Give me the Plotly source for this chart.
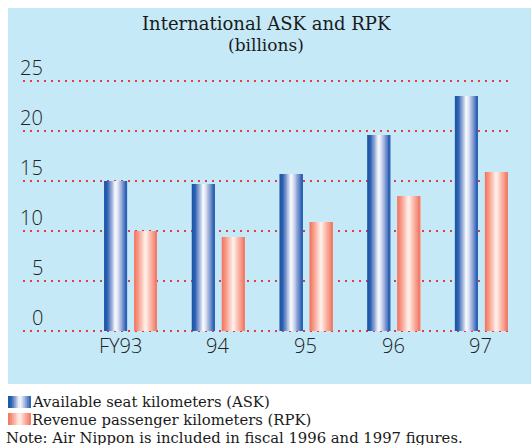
import plotly.graph_objects as go

# ---- data ----
years = ["FY93", "94", "95", "96", "97"]
ask = [15.0, 14.7, 15.7, 19.6, 23.5]   # available seat kilometers, billions
rpk = [10.0, 9.4, 10.9, 13.5, 15.9]    # revenue passenger kilometers, billions
y_ticks = [0, 5, 10, 15, 20, 25]

title_text = "International ASK and RPK"
unit_text = "(billions)"
ask_label = "Available seat kilometers (ASK)"
rpk_label = "Revenue passenger kilometers (RPK)"
note_text = "Note: Air Nippon is included in fiscal 1996 and 1997 figures."

# ---- styling ----
W, H = 531, 445
M_L, M_R, M_T, M_B = 23, 18, 78, 111
PW, PH = W - M_L - M_R, H - M_T - M_B
PANEL = "#c6e9f8"
GRID = "#e63a44"
SANS = "Open Sans"
SERIF = "DejaVu Serif"

ASK_STOPS = [(0.0, "#1a55a8"), (0.14, "#2b60b0"), (0.32, "#94a9d7"),
             (0.5, "#ffffff"), (0.64, "#cfd6ee"), (0.86, "#6283c5"), (1.0, "#1d5cb1")]
RPK_STOPS = [(0.0, "#f2715d"), (0.18, "#f79a87"), (0.5, "#fff4ef"),
             (0.72, "#fbb8a8"), (0.9, "#f48b7b"), (1.0, "#f07765")]

X_RANGE = [-1.226, 4.361]
Y_RANGE = [-0.3, 25.3]
BAR_W = 0.262
ASK_OFF = -0.302
RPK_OFF = 0.040
N_SLICES = 18


def hex_rgb(h):
    h = h.lstrip("#")
    return tuple(int(h[i:i + 2], 16) for i in (0, 2, 4))


def grad(stops, t):
    for (t0, c0), (t1, c1) in zip(stops, stops[1:]):
        if t <= t1:
            f = 0 if t1 == t0 else (t - t0) / (t1 - t0)
            a, b = hex_rgb(c0), hex_rgb(c1)
            return "rgb(%d,%d,%d)" % tuple(round(a[i] + (b[i] - a[i]) * f) for i in range(3))
    return stops[-1][1]


def px_x(p):
    return (p - M_L) / PW


def px_y(p):
    return (H - M_B - p) / PH


fig = go.Figure()
xs = list(range(len(years)))

# cylinder-shaded bars: overlapping slices, each reaching the bar's right edge
for values, off, stops in ((ask, ASK_OFF, ASK_STOPS), (rpk, RPK_OFF, RPK_STOPS)):
    step = BAR_W / N_SLICES
    for k in range(N_SLICES):
        fig.add_trace(go.Bar(
            x=xs, y=values, base=0,
            offset=off + k * step, width=BAR_W - k * step,
            marker=dict(color=grad(stops, (k + 0.5) / N_SLICES), line=dict(width=0)),
            showlegend=False, hoverinfo="skip",
        ))

shapes = [dict(type="rect", xref="paper", yref="paper", layer="below",
               x0=px_x(8), x1=px_x(W + 5), y0=px_y(384), y1=px_y(8),
               fillcolor=PANEL, line=dict(width=0))]

# legend swatches, shaded like the bars
def swatch(top, stops, x0=8, x1=31, h=12, n=12):
    out = []
    step = (x1 - x0) / n
    for k in range(n):
        out.append(dict(type="rect", xref="paper", yref="paper", layer="above",
                        x0=px_x(x0 + k * step), x1=px_x(x1),
                        y0=px_y(top + h), y1=px_y(top),
                        fillcolor=grad(stops, (k + 0.5) / n), line=dict(width=0)))
    return out

shapes += swatch(396, ASK_STOPS)
shapes += swatch(413, RPK_STOPS)

annotations = []
# title
annotations.append(dict(text=title_text, xref="paper", yref="paper", x=px_x(266), y=px_y(23),
                        xanchor="center", yanchor="middle", showarrow=False,
                        font=dict(family=SERIF, size=18, color="#1a1a1a")))
annotations.append(dict(text=unit_text, xref="paper", yref="paper", x=px_x(266), y=px_y(45),
                        xanchor="center", yanchor="middle", showarrow=False,
                        font=dict(family=SERIF, size=17, color="#1a1a1a")))
# y labels sit above their grid lines
for v in y_ticks:
    annotations.append(dict(text=str(v), xref="paper", yref="y", x=px_x(45), y=v,
                            xanchor="right", yanchor="middle", yshift=14, showarrow=False,
                            font=dict(family=SANS, size=20, color="#222222", weight=300)))
# category labels, digits aligned under each group
for i, lab in enumerate(years):
    annotations.append(dict(text=lab, xref="x", yref="y", x=i, y=0,
                            xanchor="right", yanchor="middle", xshift=13, yshift=-14,
                            showarrow=False,
                            font=dict(family=SANS, size=20, color="#222222", weight=300)))
# legend and note
for txt, x, y in ((ask_label, 31, 401), (rpk_label, 31, 419), (note_text, 5, 437.5)):
    annotations.append(dict(text=txt, xref="paper", yref="paper", x=px_x(x), y=px_y(y),
                            xanchor="left", yanchor="middle", showarrow=False, borderpad=0,
                            font=dict(family=SERIF, size=14.8, color="#1a1a1a")))

fig.update_layout(
    width=W, height=H,
    margin=dict(l=M_L, r=M_R, t=M_T, b=M_B),
    paper_bgcolor="white", plot_bgcolor="rgba(0,0,0,0)",
    barmode="overlay", showlegend=False,
    shapes=shapes, annotations=annotations,
    xaxis=dict(range=X_RANGE, showgrid=False, zeroline=False, showline=False,
               showticklabels=False, ticks="", fixedrange=True),
    yaxis=dict(range=Y_RANGE, tickvals=y_ticks, showgrid=True, gridcolor=GRID,
               gridwidth=2, griddash="2px,5px", zeroline=False, showline=False,
               showticklabels=False, ticks="", fixedrange=True),
)

fig.write_html("out.html")
